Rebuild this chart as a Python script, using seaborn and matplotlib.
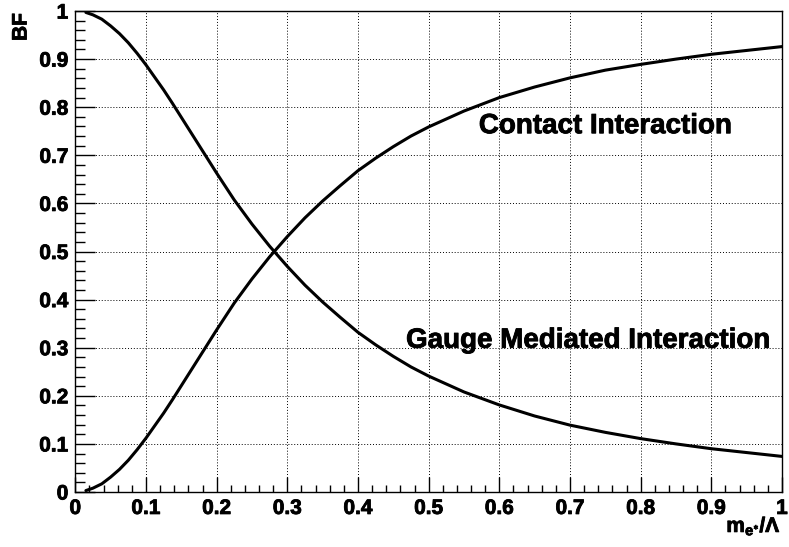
import matplotlib
matplotlib.use("Agg")
import matplotlib.pyplot as plt
import matplotlib.patheffects as pe
import numpy as np
import pandas as pd
import seaborn as sns
from matplotlib.ticker import MultipleLocator

# ---- data ----
mass_ratio = [0.015, 0.025, 0.0375, 0.05, 0.0625, 0.075, 0.0875, 0.1, 0.1125, 0.125,
              0.1375, 0.15, 0.1625, 0.175, 0.1875, 0.2, 0.225, 0.25, 0.275, 0.3,
              0.325, 0.35, 0.375, 0.4, 0.425, 0.45, 0.475, 0.5, 0.55, 0.6,
              0.65, 0.7, 0.75, 0.8, 0.85, 0.9, 0.95, 1.0]
bf_contact = [0.003, 0.008, 0.017, 0.031, 0.047, 0.066, 0.088, 0.112, 0.138, 0.164,
              0.192, 0.221, 0.250, 0.279, 0.308, 0.337, 0.393, 0.443, 0.489, 0.531,
              0.570, 0.605, 0.637, 0.668, 0.694, 0.718, 0.740, 0.759, 0.792, 0.820,
              0.842, 0.861, 0.877, 0.889, 0.900, 0.910, 0.918, 0.926]
bf_gauge = [0.997, 0.992, 0.983, 0.969, 0.953, 0.934, 0.912, 0.888, 0.862, 0.836,
            0.808, 0.779, 0.750, 0.721, 0.692, 0.663, 0.607, 0.557, 0.511, 0.469,
            0.430, 0.395, 0.363, 0.332, 0.306, 0.282, 0.260, 0.241, 0.208, 0.181,
            0.158, 0.139, 0.124, 0.111, 0.100, 0.090, 0.082, 0.074]

x_ticks = [0.0, 0.1, 0.2, 0.3, 0.4, 0.5, 0.6, 0.7, 0.8, 0.9, 1.0]
x_tick_labels = ["0", "0.1", "0.2", "0.3", "0.4", "0.5", "0.6", "0.7", "0.8", "0.9", "1"]
y_ticks = [0.0, 0.1, 0.2, 0.3, 0.4, 0.5, 0.6, 0.7, 0.8, 0.9, 1.0]
y_tick_labels = ["0", "0.1", "0.2", "0.3", "0.4", "0.5", "0.6", "0.7", "0.8", "0.9", "1"]

labels = ["Contact Interaction", "Gauge Mediated Interaction"]

# ---- style ----
sns.set_theme(style="white")
plt.rcParams["font.family"] = ["Liberation Sans", "DejaVu Sans"]
plt.rcParams["font.weight"] = "bold"
plt.rcParams["mathtext.fontset"] = "custom"
plt.rcParams["mathtext.rm"] = "Liberation Sans:bold"
plt.rcParams["mathtext.bf"] = "Liberation Sans:bold"
plt.rcParams["mathtext.it"] = "Liberation Sans:bold"

heavy = [pe.withStroke(linewidth=0.6, foreground="black")]

fig = plt.figure(figsize=(7.89, 5.47), dpi=100)
W, H = 789, 547
x0, x1, ytop, ybot = 75.3, 782.0, 11.0, 492.0
ax = fig.add_axes([x0 / W, 1 - ybot / H, (x1 - x0) / W, (ybot - ytop) / H])

df = pd.DataFrame({"x": mass_ratio, "contact": bf_contact, "gauge": bf_gauge})
sns.lineplot(data=df, x="x", y="contact", color="black", linewidth=2.2,
             estimator=None, ax=ax)
sns.lineplot(data=df, x="x", y="gauge", color="black", linewidth=2.2,
             estimator=None, ax=ax)

ax.set_xlim(0, 1)
ax.set_ylim(0, 1)
ax.set_xticks(x_ticks)
ax.set_xticklabels(x_tick_labels)
ax.set_yticks(y_ticks)
ax.set_yticklabels(y_tick_labels)
ax.xaxis.set_minor_locator(MultipleLocator(0.02))
ax.yaxis.set_minor_locator(MultipleLocator(0.02))
ax.tick_params(axis="x", which="major", direction="in", length=10.8, width=1.0,
               color="black", bottom=True, top=False, pad=5, labelsize=15)
ax.tick_params(axis="x", which="minor", direction="in", length=5.2, width=1.0,
               color="black", bottom=True, top=False)
ax.tick_params(axis="y", which="major", direction="in", length=14.4, width=1.0,
               color="black", left=True, right=False, pad=5, labelsize=15)
ax.tick_params(axis="y", which="minor", direction="in", length=7.2, width=1.0,
               color="black", left=True, right=False)
for lab in ax.get_xticklabels() + ax.get_yticklabels():
    lab.set_fontweight("bold")
    lab.set_color("black")
    lab.set_path_effects(heavy)

ax.grid(True, which="major", linestyle=(0, (1, 2)), color="black", linewidth=0.7)
for sp in ax.spines.values():
    sp.set_color("black")
    sp.set_linewidth(1.0)
    sp.set_visible(True)
ax.set_xlabel("")
ax.set_ylabel("")

ax.text(0.571, 0.746, labels[0], fontsize=20, fontweight="bold", ha="left",
        va="baseline", color="black", path_effects=heavy)
ax.text(0.468, 0.300, labels[1], fontsize=20, fontweight="bold", ha="left",
        va="baseline", color="black", path_effects=heavy)

fig.text(21 / W, 1 - 13 / H, "BF", rotation=90, ha="center", va="top",
         fontsize=15, fontweight="bold", color="black", path_effects=heavy)
fig.text(781 / W, 1 - 532 / H, r"$\mathbf{m}_{\mathbf{e}^{\ast}}\mathbf{/}\Lambda$",
         ha="right", va="baseline", fontsize=15, color="black", path_effects=heavy)

fig.savefig("out.png", dpi=100)
